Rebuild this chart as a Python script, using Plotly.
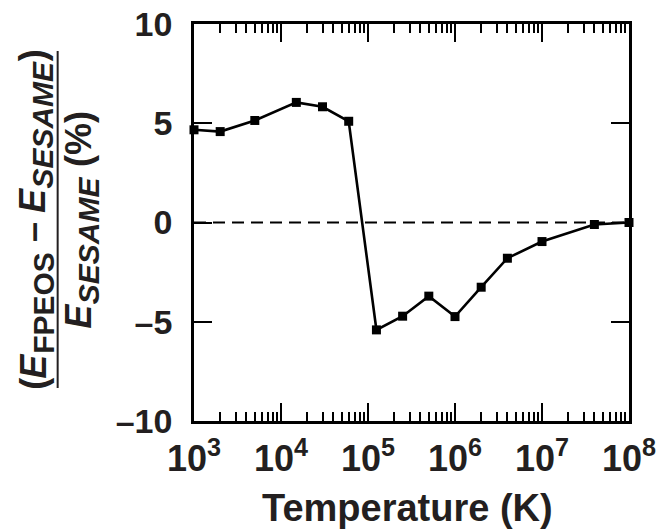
import plotly.graph_objects as go

temperature_K = [1e3, 2e3, 5e3, 1.5e4, 3e4, 6e4, 1.25e5, 2.5e5, 5e5, 1e6, 2e6, 4e6, 1e7, 4e7, 1e8]
diff_pct = [4.67, 4.58, 5.14, 6.05, 5.83, 5.10, -5.41, -4.72, -3.71, -4.74, -3.26, -1.80, -0.96, -0.10, 0.0]

ref_x = [1e3, 1e8]
ref_y = [0, 0]

x_major = [1e3, 1e4, 1e5, 1e6, 1e7, 1e8]
x_major_text = ["10<sup>3</sup>", "10<sup>4</sup>", "10<sup>5</sup>", "10<sup>6</sup>", "10<sup>7</sup>", "10<sup>8</sup>"]
x_minor = [k * 10 ** n for n in range(3, 8) for k in range(2, 10)]
y_major = [-10, -5, 0, 5, 10]
y_major_text = ["–10", "–5", "0", "5", "10"]
x_title = "Temperature (K)"

TXT = "#231f20"
FONT = "Liberation Sans"

L, R, T, B = 193.5, 33, 24, 109
W, H = 662, 530
pw, ph = W - L - R, H - T - B

def px(xp):
    return (xp - L) / pw

def py(yp):
    return (H - B - yp) / ph

fig = go.Figure()
fig.add_trace(go.Scatter(x=ref_x, y=ref_y, mode="lines",
                         line=dict(color="black", width=2, dash="12px,7px"),
                         hoverinfo="skip", showlegend=False))
fig.add_trace(go.Scatter(x=temperature_K, y=diff_pct, mode="lines+markers",
                         line=dict(color="black", width=2.6),
                         marker=dict(symbol="square", size=9, color="black"),
                         cliponaxis=False, showlegend=False))

axis_common = dict(showline=True, linecolor="black", linewidth=2.5, mirror="allticks",
                   ticks="inside", tickcolor="black", tickwidth=2.2, ticklen=18,
                   showgrid=False, zeroline=False, automargin=False)

fig.update_xaxes(type="log", range=[2.99999, 8.00001], tickmode="array", tickvals=x_major, ticktext=x_major_text,
                 minor=dict(tickmode="array", tickvals=x_minor, ticks="inside", ticklen=9,
                            tickwidth=2.2, tickcolor="black", showgrid=False),
                 ticklabelstandoff=4,
                 tickfont=dict(family=FONT, size=36, color=TXT, weight="bold"),
                 **axis_common)
fig.update_yaxes(range=[-10, 10], tickmode="array", tickvals=y_major, ticktext=y_major_text,
                 ticklabelstandoff=12,
                 tickfont=dict(family=FONT, size=34, color=TXT, weight="bold"),
                 **axis_common)

# x-axis title
fig.add_annotation(text=x_title, xref="paper", yref="paper", x=px(407), y=py(508),
                   xanchor="center", yanchor="middle", showarrow=False,
                   font=dict(family=FONT, size=38, color=TXT, weight="bold"))

# y-axis title: a fraction built from rotated pieces (Arial/Liberation bold advance widths in em)
ADV = {"(": .333, ")": .333, "E": .667, "F": .611, "P": .667, "O": .778, "S": .667,
       "A": .722, "M": .833, "–": .556, "%": .889, " ": .278}
MAIN_FS, SUB_FS = 36, 30

def text_width(s, fs):
    return sum(ADV[c] for c in s) * fs

def rotated_row(pieces, x_base, y_start):
    # pieces: (text, font size, italic, sub?) laid out from bottom (y_start) upward
    y = y_start
    for txt, fs, ital, sub in pieces:
        w = text_width(txt, fs)
        if txt.strip():
            shown = "<i>%s</i>" % txt if ital else txt
            fig.add_annotation(text=shown, xref="paper", yref="paper",
                               x=px(x_base + (10 if sub else 0)), y=py(y - w / 2),
                               textangle=-90, xanchor="center", yanchor="middle",
                               showarrow=False,
                               font=dict(family=FONT, size=fs, color=TXT, weight="bold"))
        y -= w

numerator = [("(", MAIN_FS, False, False), ("E", MAIN_FS, True, False), ("FPEOS", SUB_FS, False, True),
             (" ", MAIN_FS, False, False), ("–", MAIN_FS, False, False), (" ", MAIN_FS, False, False),
             ("E", MAIN_FS, True, False), ("SESAME", SUB_FS, True, True), (")", MAIN_FS, False, False)]
denominator = [("E", MAIN_FS, True, False), ("SESAME", SUB_FS, True, True), (" ", MAIN_FS, False, False),
               ("(%)", MAIN_FS, False, False)]

rotated_row(numerator, 32, 390)
rotated_row(denominator, 78, 328)
fig.add_shape(type="line", xref="paper", yref="paper", x0=px(57), x1=px(57), y0=py(51), y1=py(388),
              line=dict(color=TXT, width=2))

fig.update_layout(width=W, height=H, margin=dict(l=L, r=R, t=T, b=B),
                  plot_bgcolor="white", paper_bgcolor="white", showlegend=False)

fig.write_html("out.html")
